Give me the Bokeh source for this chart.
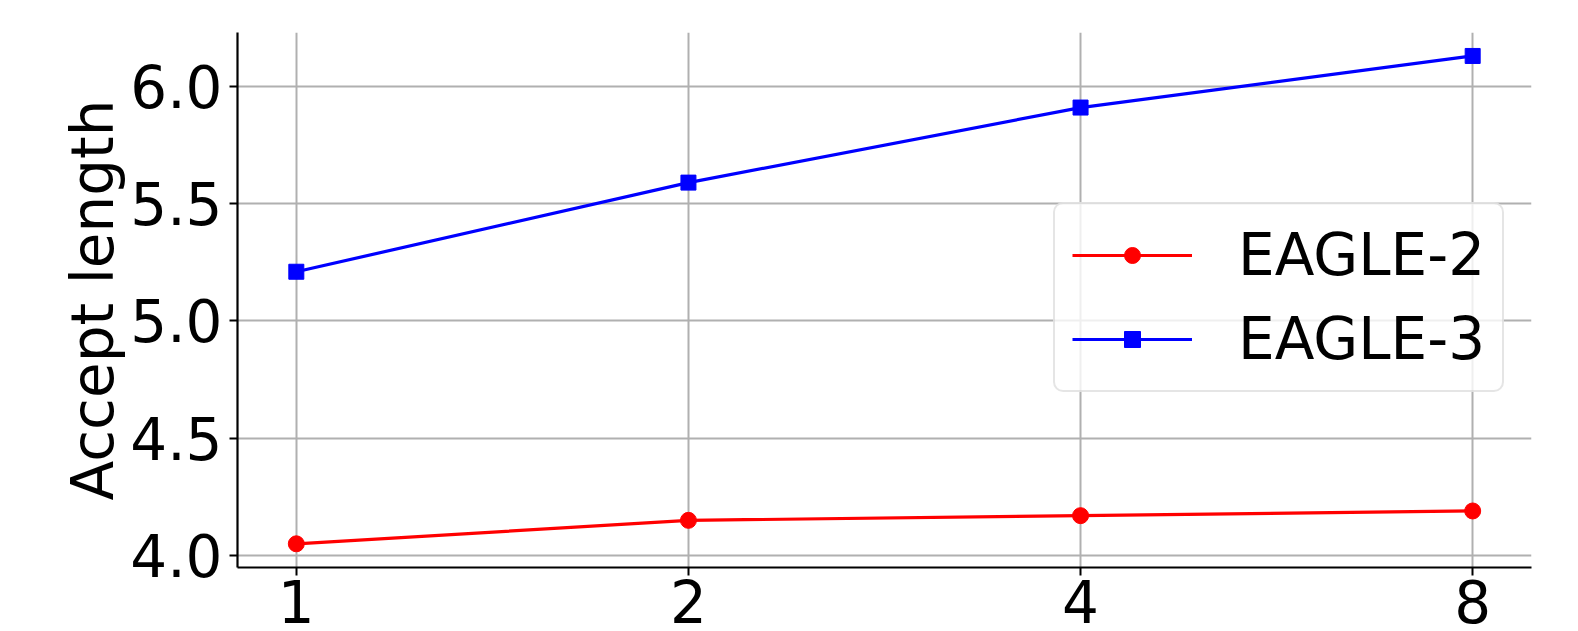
from bokeh.plotting import figure
from bokeh.models import FixedTicker, Range1d, Legend, LegendItem, NumeralTickFormatter
from bokeh.embed import file_html
from bokeh.resources import INLINE

categories = ["1", "2", "4", "8"]
eagle2 = [4.05, 4.15, 4.17, 4.19]
eagle3 = [5.21, 5.59, 5.91, 6.13]
y_ticks = [4.0, 4.5, 5.0, 5.5, 6.0]
series_names = ["EAGLE-2", "EAGLE-3"]
y_label = "Accept length"

x = list(range(len(categories)))
FONT = "DejaVu Sans"
FS = "58px"

p = figure(width=1578, height=631, output_backend="svg", toolbar_location=None,
           x_range=Range1d(-0.15, 3.15), y_range=Range1d(3.949, 6.23),
           min_border_left=237, min_border_right=47, min_border_top=32,
           min_border_bottom=64)
p.outline_line_color = None
p.background_fill_color = "white"
p.border_fill_color = "white"

# grid
p.xgrid.ticker = FixedTicker(ticks=x)
p.ygrid.ticker = FixedTicker(ticks=y_ticks)
for g in (p.xgrid, p.ygrid):
    g.grid_line_color = "#b0b0b0"
    g.grid_line_width = 2

# axes
p.xaxis.ticker = FixedTicker(ticks=x)
p.xaxis.major_label_overrides = {i: c for i, c in enumerate(categories)}
p.yaxis.ticker = FixedTicker(ticks=y_ticks)
p.yaxis.formatter = NumeralTickFormatter(format="0.0")
p.yaxis.axis_label = y_label
for ax in (p.xaxis, p.yaxis):
    ax.axis_line_color = "black"
    ax.axis_line_width = 2.2
    ax.major_tick_out = 8
    ax.major_tick_in = 0
    ax.major_tick_line_width = 2
    ax.minor_tick_out = 0
    ax.minor_tick_in = 0
    ax.major_label_text_font = FONT
    ax.major_label_text_font_size = FS
    ax.major_label_text_color = "black"
    ax.axis_label_text_font = FONT
    ax.axis_label_text_font_size = FS
    ax.axis_label_text_font_style = "normal"
    ax.axis_label_text_color = "black"
p.xaxis.major_label_standoff = 4
p.yaxis.major_label_standoff = 7
p.yaxis.axis_label_standoff = 0

# series
l2 = p.line(x, eagle2, line_color="#ff0000", line_width=3.2)
s2 = p.scatter(x, eagle2, marker="circle", size=16, fill_color="#ff0000", line_color="#ff0000")
l3 = p.line(x, eagle3, line_color="#0000ff", line_width=3.2)
s3 = p.scatter(x, eagle3, marker="square", size=15, fill_color="#0000ff", line_color="#0000ff")

legend = Legend(items=[LegendItem(label=series_names[0], renderers=[l2, s2]),
                       LegendItem(label=series_names[1], renderers=[l3, s3])],
                location=(816, 175))
legend.label_text_font = FONT
legend.label_text_font_size = FS
legend.label_text_color = "black"
legend.glyph_width = 120
legend.glyph_height = 40
legend.label_height = 40
legend.label_standoff = 46
legend.spacing = 16
legend.padding = 17
legend.margin = 0
legend.border_line_color = "#cccccc"
legend.border_line_width = 2
legend.background_fill_color = "white"
legend.background_fill_alpha = 0.8
legend.border_radius = 10
p.add_layout(legend)

open("out.html", "w").write(file_html(p, INLINE))
